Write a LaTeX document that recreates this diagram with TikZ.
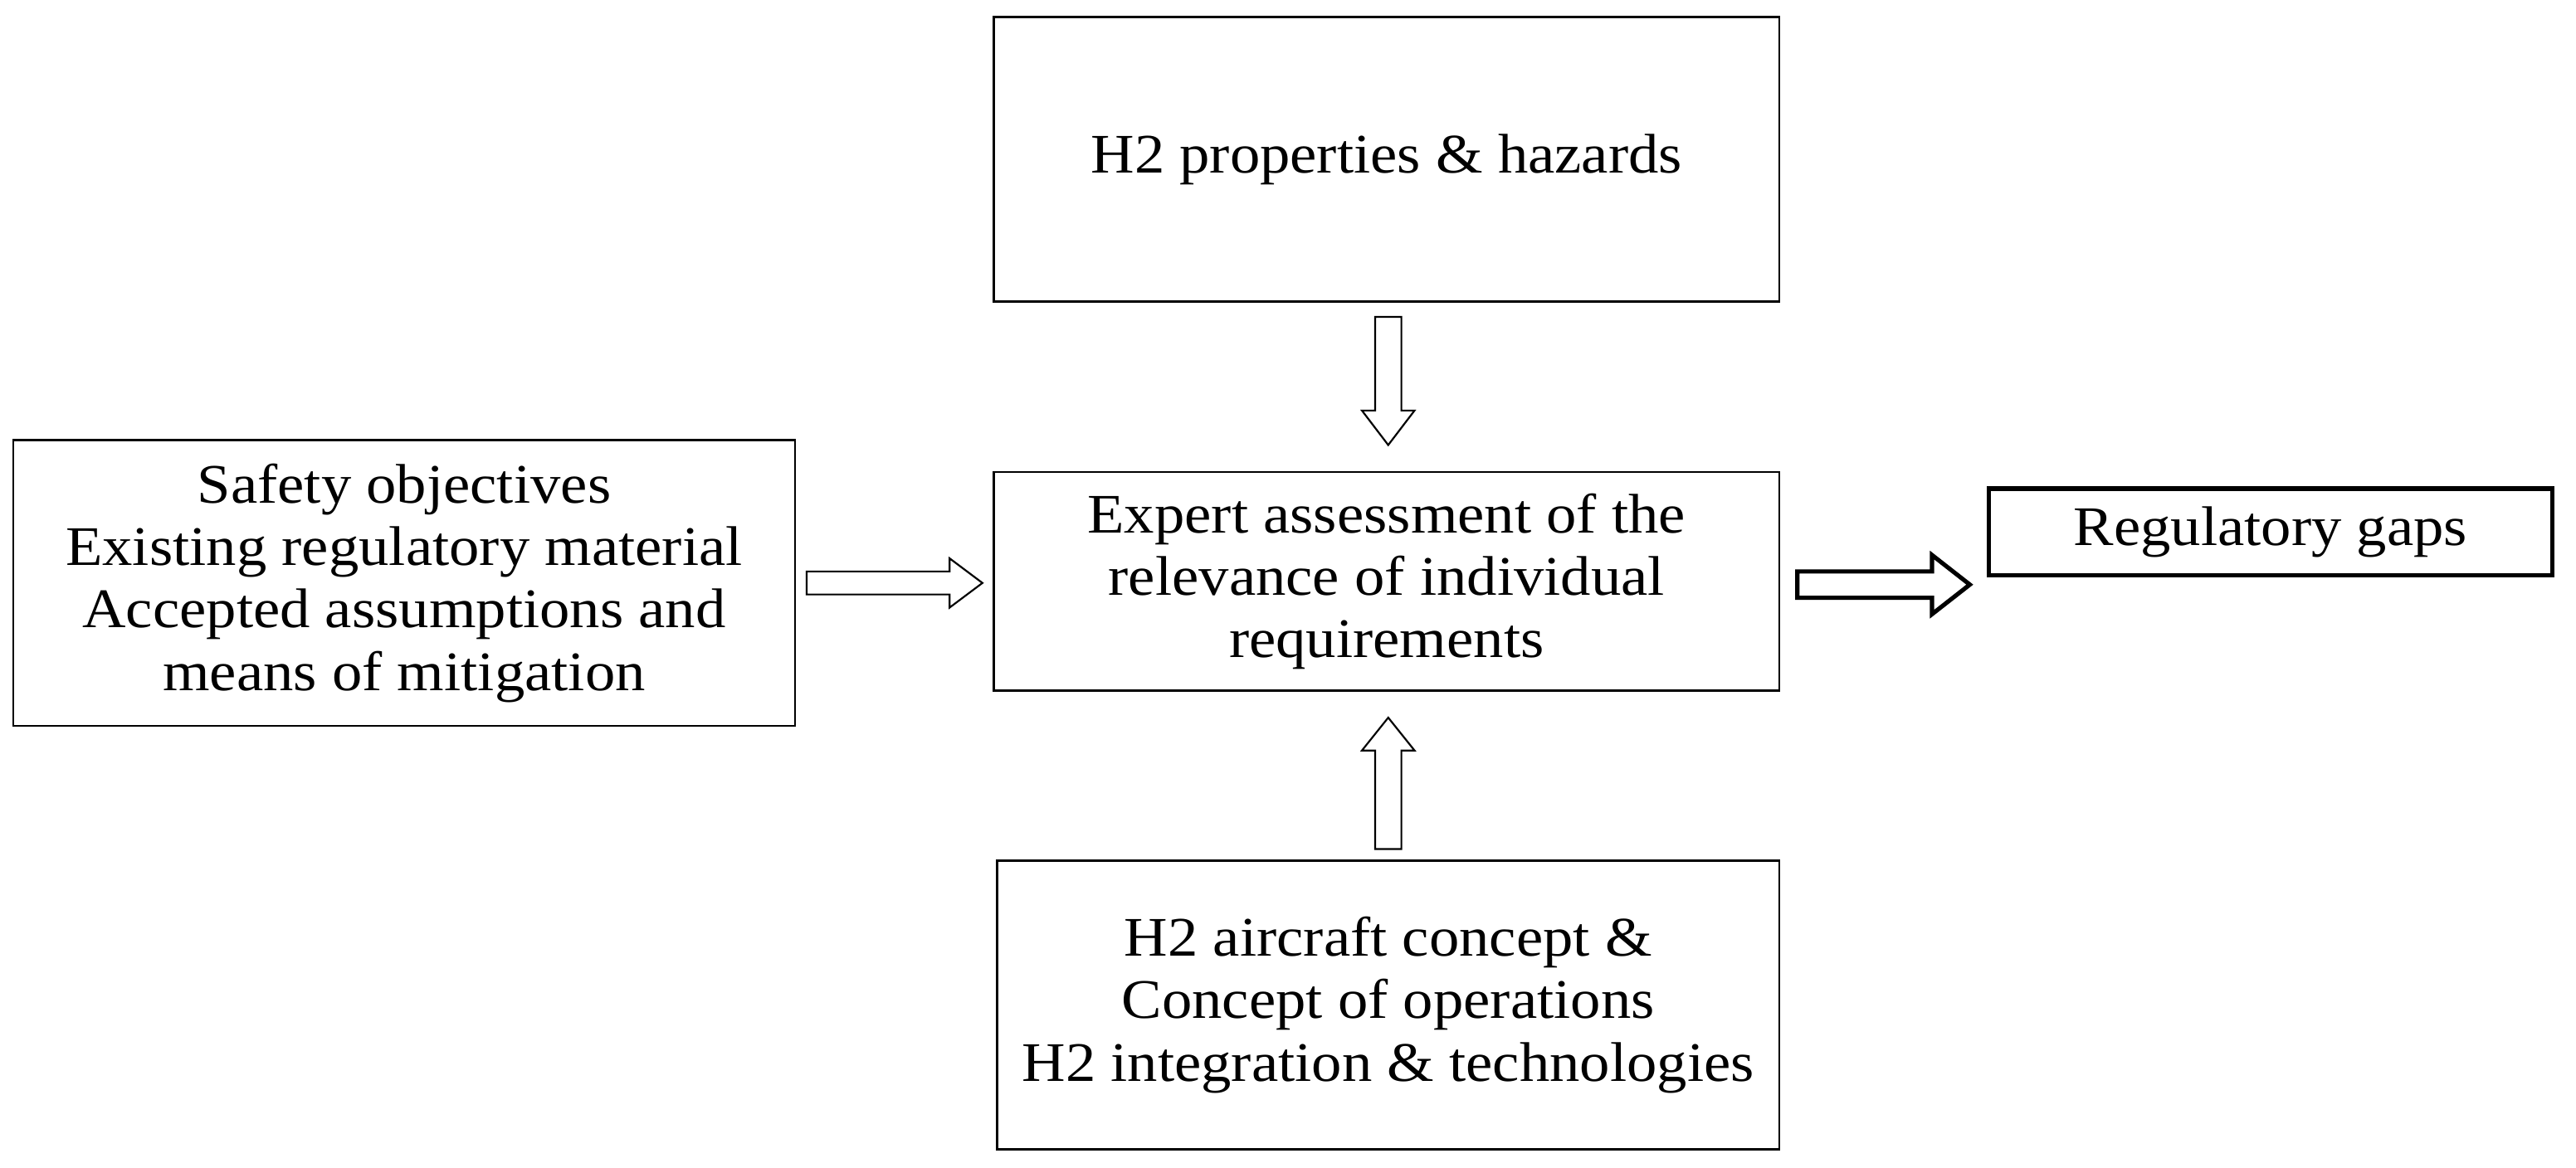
\documentclass[tikz,border=0pt]{standalone}
\usepackage{fontspec}
\setmainfont[FakeStretch=1.08]{Liberation Serif}
\begin{document}
\begin{tikzpicture}[x=1pt,y=-1pt,
  box/.style={draw,line width=1.3pt,align=center,inner sep=0pt,font=\fontsize{34}{38}\selectfont},
  blockarrow/.style={draw,line width=1.1pt,line join=miter,fill=white}]
\useasboundingbox (0,0) rectangle (1568,711);
\node[box,minimum width=478pt,minimum height=173pt] (top) at (844,97) {H2 properties \& hazards};
\node[box,minimum width=476pt,minimum height=174pt] (left) at (246,355) {Safety objectives\\Existing regulatory material\\Accepted assumptions and\\means of mitigation};
\node[box,minimum width=478pt,minimum height=133pt] (mid) at (844,354) {Expert assessment of the\\relevance of individual\\requirements};
\node[box,line width=2.6pt,minimum width=343pt,minimum height=53pt] (gap) at (1382,324) {Regulatory gaps};
\node[box,minimum width=476pt,minimum height=176pt] (bot) at (845,612) {H2 aircraft concept \&\\Concept of operations\\H2 integration \& technologies};
% down arrow
\draw[blockarrow] (837,193) -- (853,193) -- (853,250) -- (861,250) -- (845,271) -- (829,250) -- (837,250) -- cycle;
% right arrow from left box
\draw[blockarrow] (491,348) -- (578,348) -- (578,340) -- (598,355) -- (578,370) -- (578,362) -- (491,362) -- cycle;
% up arrow
\draw[blockarrow] (837,517) -- (853,517) -- (853,457) -- (861,457) -- (845,437) -- (829,457) -- (837,457) -- cycle;
% thick arrow to gaps
\draw[blockarrow,line width=2.6pt] (1094,348) -- (1176,348) -- (1176,338) -- (1199,356) -- (1176,374) -- (1176,364) -- (1094,364) -- cycle;
\end{tikzpicture}
\end{document}
